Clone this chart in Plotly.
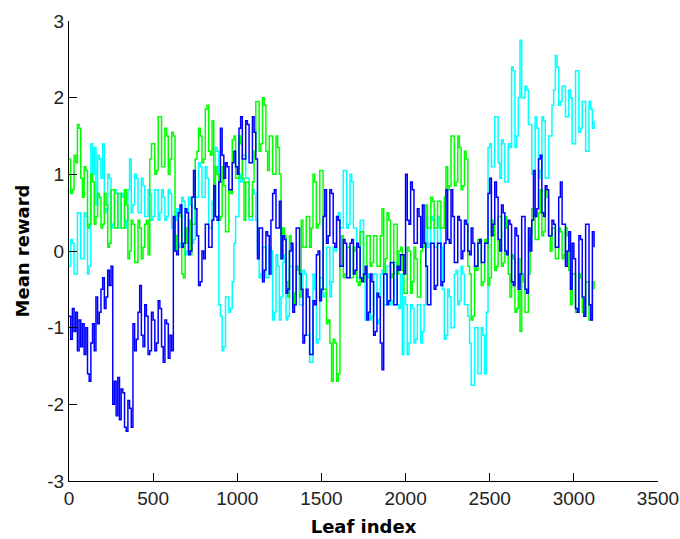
import plotly.graph_objects as go

# Leaf index sample positions (every 10 leaves)
leaf_index = list(range(0, 3121, 10))

blue_reward = [
    -0.85, -1.15, -0.75, -1.05, -0.8, -1.3, -0.9, -1.25, -0.95, -1.35,
    -1.0, -1.6, -1.7, -1.2, -0.95, -1.3, -0.6, -0.95, -0.8, -0.5,
    -0.35, -0.75, -0.6, -0.25, -0.45, -0.2, -2.0, -1.7, -2.15, -1.65,
    -2.2, -1.8, -1.85, -2.3, -2.35, -1.95, -2.05, -2.3, -0.95, -1.3,
    -1.15, -0.8, -0.45, -1.1, -1.25, -0.7, -0.85, -1.35, -1.3, -0.8,
    -0.9, -1.3, -1.2, -0.65, -0.75, -1.25, -1.45, -0.9, -0.95, -1.4,
    -1.1, -1.3, 0.45, 0.0, -0.05, 0.5, 0.6, 0.05, 0.1, 0.55,
    0.5, -0.05, 0.0, 0.7, 1.05, 0.55, 0.2, -0.45, -0.4, 0.0,
    -0.1, 0.35, 0.35, 0.05, 0.05, 0.4, 0.85, 0.45, 0.4, 0.9,
    1.6, 1.25, 0.95, 1.15, 1.1, 0.8, 0.8, 1.15, 1.3, 1.1,
    1.0, 1.6, 1.75, 1.2, 1.2, 1.7, 1.65, 1.15, 1.15, 1.75,
    1.55, 1.2, -0.1, 0.3, 0.3, -0.4, -0.25, 0.25, 0.2, -0.3,
    0.4, 0.75, 0.8, 0.3, 0.3, 0.65, -0.1, 0.2, 0.15, -0.55,
    -0.5, 0.0, 0.1, -0.8, -0.7, 0.3, 0.3, -0.3, -0.5, -1.2,
    -1.1, -0.5, -0.6, -1.35, -1.35, -0.65, -0.7, -0.05, 0.0, -0.65,
    -0.5, 0.45, 0.8, 0.1, 0.2, 0.8, 0.75, 0.1, 0.05, 0.45,
    0.4, -0.2, -0.2, 0.15, 0.1, -0.35, -0.35, 0.1, 0.15, -0.3,
    -0.25, 0.1, 0.05, -0.35, -0.4, -0.3, -0.2, -0.9, -0.8, -0.3,
    -0.4, -1.1, -1.05, -0.55, -0.6, -1.2, -1.55, -0.3, -0.3, -0.7,
    -0.65, -0.15, -0.15, -0.7, -0.7, -0.2, -0.25, -0.05, -0.05, -0.3,
    1.0, 0.4, 0.35, 0.9, 0.8, 0.1, 0.1, 0.55, 0.45, 0.05,
    0.6, 0.1, -0.2, -0.7, -0.7, 0.1, 0.1, -0.5, -0.45, 0.1,
    0.1, -0.45, -0.4, 0.1, 0.8, 0.15, 0.1, 0.8, 0.45, -0.15,
    -0.15, 0.45, 0.4, -0.1, 0.0, 0.4, 0.35, 0.0, -0.05, 0.3,
    0.1, -0.2, -0.2, 0.1, 0.15, -0.15, -0.15, 0.1, 0.1, 0.75,
    0.95, 0.2, 0.35, 0.9, 0.7, 0.15, 0.0, 0.6, 0.5, 0.0,
    -0.05, 0.4, 0.35, -0.4, -0.45, 0.3, 0.2, -0.5, -0.3, 0.45,
    0.45, -0.5, -0.55, 0.3, 0.0, 0.4, 1.05, 0.45, 0.55, 1.2,
    1.25, 0.5, 0.45, 0.85, 0.8, 0.2, 0.2, 0.4, 0.35, 0.05,
    0.05, 0.7, 0.9, 0.35, 0.35, -0.2, 0.0, 0.25, -0.5, 0.1,
    -0.1, -0.75, -0.8, 0.2, 0.15, -0.6, -0.85, 0.35, 0.35, -0.7,
    -0.9, 0.25, 0.05,
]

green_reward = [
    1.2, 0.75, 0.8, 1.25, 1.15, 1.65, 1.6, 0.95, 0.7, 1.1,
    1.05, 0.3, 0.35, 1.0, 0.9, 0.35, 0.45, 0.75, 0.7, 0.3,
    0.35, 0.75, 0.6, 0.05, 0.1, 0.8, 0.8, 0.3, 0.3, 0.75,
    0.75, 0.3, 0.3, 0.8, 0.6, -0.1, 0.0, 0.4, 0.35, -0.15,
    -0.15, 0.4, 0.3, -0.1, 0.05, 0.35, 0.4, -0.05, 1.2, 1.4,
    1.4, 1.0, 1.05, 1.75, 1.75, 1.1, 1.1, 1.6, 1.5, 1.0,
    1.2, 1.55, 1.5, 0.0, 0.2, 0.5, 0.45, -0.3, -0.35, 0.3,
    0.1, 0.4, -0.05, 0.35, 0.35, 1.2, 1.3, 1.6, 1.5, 1.15,
    1.2, 1.85, 1.9, 1.3, 1.25, 1.7, 0.5, 1.1, 1.0, 0.4,
    0.45, 1.1, 0.85, 0.25, 0.25, 0.8, 0.75, 1.45, 1.5, 0.95,
    0.95, 1.5, 1.4, 0.95, 0.4, 0.9, 0.9, 0.45, 0.45, 0.9,
    1.3, 1.95, 1.95, 1.3, 1.4, 2.0, 1.9, 1.3, 1.05, 1.5,
    1.5, 1.0, 1.0, 1.5, 1.35, 1.0, -0.1, 0.3, 0.2, -0.4,
    -0.6, 0.2, 0.1, -0.7, -0.55, -0.2, -0.25, -0.6, 0.4, 0.05,
    0.05, 0.45, 0.45, 0.05, 0.3, 1.0, 0.9, 0.3, 0.35, 1.05,
    1.05, -0.5, -0.5, -0.95, -0.9, -1.2, -1.7, -1.15, -1.2, -1.7,
    -1.6, -0.2, 0.2, -0.35, -0.3, 0.05, 0.05, -0.35, -0.35, 0.05,
    0.0, -0.4, -0.45, 0.25, 0.25, -0.4, -0.3, 0.2, 0.2, -0.2,
    -0.15, 0.2, 0.2, -0.2, -0.2, 0.2, 0.55, -0.3, -0.1, 0.5,
    0.4, -0.35, -0.3, 0.35, 0.35, -0.3, 0.0, 0.05, -0.25, -0.55,
    -0.55, 0.05, 0.0, -0.55, -0.4, 0.05, -0.1, -0.6, -0.6, 0.0,
    0.05, 0.3, 0.6, 0.3, 0.3, 0.7, 0.65, 0.3, 0.3, 0.65,
    0.65, 0.3, 0.3, 0.7, 1.1, 0.8, 0.85, 1.5, 1.5, 0.85,
    0.9, 1.5, 1.35, 0.8, 0.85, 1.3, 1.2, -0.2, -0.3, -0.9,
    -0.85, -0.2, -0.25, 0.15, 0.15, -0.45, -0.4, 0.15, 0.1, -0.45,
    -0.35, 0.4, 0.35, -0.25, -0.2, 0.45, 0.45, -0.2, -0.15, 0.45,
    0.3, -0.3, -0.6, -0.05, -0.1, -0.8, -0.75, -0.1, -1.05, -0.3,
    -0.4, -0.8, -0.8, -0.3, 0.2, 0.55, 0.55, 0.15, 0.15, 0.5,
    0.8, 0.2, 0.25, 0.8, 0.7, 0.2, 0.0, 0.3, 0.3, -0.1,
    -0.1, 0.3, 0.25, -0.1, -0.05, 0.3, 0.2, -0.25, -0.7, -0.3,
    -0.3, -0.8, -0.8, -0.3, -0.35, -0.8, -0.85, -0.4, -0.4, -0.9,
    -0.9, -0.4, -0.5,
]

cyan_reward = [
    -0.2, 0.15, 0.1, -0.3, -0.3, 0.5, 0.5, -0.1, -0.1, 0.5,
    0.45, -0.3, -0.2, 1.4, 1.0, 1.35, 0.6, 1.25, 1.2, 0.95,
    1.4, 0.5, 0.55, 1.0, 0.95, 0.3, 0.35, 0.8, 0.75, 0.3,
    0.3, 0.75, 0.7, 0.3, 0.4, 0.8, 1.2, 0.5, 0.6, 1.0,
    0.95, 0.5, 0.5, 0.95, 0.85, 0.45, 0.45, 0.8, 0.75, 0.4,
    0.45, 0.8, 0.8, 0.4, 0.5, 0.8, 0.7, 0.4, 0.45, 0.8,
    0.75, 0.3, 0.3, 0.4, 0.55, 0.05, 0.1, 0.7, 0.65, -0.05,
    0.0, 0.7, 0.6, 0.1, 0.15, 0.7, 0.7, 1.15, 1.1, 0.7,
    0.7, 1.1, 0.95, 0.3, 0.3, 0.65, 0.6, 1.35, 1.3, -0.7,
    -0.85, -1.3, -1.25, -0.6, -0.6, -0.8, -0.75, -0.4, 0.1, 0.45,
    0.45, 1.0, 0.9, 1.25, 1.25, 0.95, 0.95, 0.4, 0.4, 0.8,
    0.75, 0.4, 0.0, -0.35, -0.3, 0.05, 0.05, -0.35, -0.35, 0.05,
    0.0, -0.9, -0.8, -0.05, -0.2, -0.9, -0.6, -0.15, -0.05, -0.9,
    -0.85, -0.2, -0.2, -0.7, -0.55, -0.2, -0.25, -0.7, -0.7, -0.25,
    -0.3, -1.1, -1.1, -1.45, -1.45, -0.3, -0.5, -1.2, -1.15, -0.35,
    -0.35, -0.6, -0.55, 0.05, 0.05, -0.6, -0.4, 0.05, 0.0, 0.45,
    0.5, 0.3, 0.3, 1.05, 1.05, 0.3, 0.35, 1.0, 0.9, 0.3,
    0.3, -0.35, -0.35, 0.4, 0.4, -0.3, -0.9, -0.3, -0.35, -0.9,
    -0.85, -0.3, -0.3, -0.95, -0.9, -0.3, -0.25, -0.7, -0.7, -0.2,
    -0.2, -0.7, -0.65, -0.15, -0.15, -0.7, -0.75, -0.3, -1.35, -0.6,
    -0.7, -1.35, -1.2, -0.7, -0.75, -1.2, -1.15, -0.7, -0.7, -1.2,
    -1.05, -0.7, 0.45, 0.05, 0.1, 0.45, 0.4, 0.05, 0.05, 0.45,
    0.3, 0.05, -0.5, -1.15, -1.1, -0.5, -0.6, -1.0, -1.0, -0.3,
    -0.25, -0.7, -0.65, -0.2, -0.3, -0.7, -0.7, -0.85, -1.2, -1.75,
    -1.75, -1.0, -1.0, -1.6, -1.6, -1.0, -1.1, -1.6, -0.8, 1.35,
    1.4, 1.1, 1.1, 1.75, 1.75, 1.15, 0.95, 1.45, 1.4, 0.9,
    0.9, 1.4, 1.35, 2.4, 2.35, 1.35, 1.5, 2.0, 2.75, 2.0,
    2.0, 2.15, 2.1, 1.65, 1.65, 1.0, 1.0, 1.75, 1.6, 0.95,
    1.05, 1.75, 1.7, 0.95, 0.95, 1.5, 1.5, 1.9, 2.1, 2.55,
    2.4, 1.9, 1.95, 2.15, 2.15, 1.75, 1.75, 2.1, 2.0, 1.4,
    1.4, 2.35, 2.35, 1.55, 1.6, 1.95, 1.95, 1.3, 1.3, 1.95,
    1.85, 1.6, 1.7,
]

x_ticks = [0, 500, 1000, 1500, 2000, 2500, 3000, 3500]
y_ticks = [-3, -2, -1, 0, 1, 2, 3]

fig = go.Figure()
for vals, col in [(cyan_reward, "#00FFFF"), (green_reward, "#00FF00"), (blue_reward, "#0000FF")]:
    fig.add_trace(go.Scatter(x=leaf_index[:len(vals)], y=vals, mode="lines",
                             line=dict(color=col, width=1.5, shape="hv"), hoverinfo="skip"))

axis_common = dict(showline=True, linecolor="black", linewidth=1, mirror=False,
                   ticks="inside", ticklen=8, tickcolor="black", tickwidth=1,
                   showgrid=False, zeroline=False, automargin=False)

title_font = dict(family="DejaVu Sans, Arial, sans-serif", size=18, color="black")

fig.update_layout(
    width=680, height=539,
    margin=dict(l=69, r=22, t=21, b=58),
    plot_bgcolor="white", paper_bgcolor="white",
    showlegend=False,
    font=dict(family="Liberation Sans, Arial, sans-serif", size=19, color="#222222"),
    xaxis=dict(range=[0, 3500], tickvals=x_ticks, ticktext=[str(v) for v in x_ticks],
               title=dict(text="<b>Leaf index</b>", font=title_font, standoff=12),
               **axis_common),
    yaxis=dict(range=[-3, 3], tickvals=y_ticks, ticktext=[str(v) for v in y_ticks],
               title=dict(text="<b>Mean reward</b>", font=title_font, standoff=12),
               **axis_common),
)

# remove the default page margin so the figure fills the window exactly
fig.write_html("out.html",
               config={"displayModeBar": False},
               post_script="document.body.style.margin='0px';document.body.style.overflow='hidden';")
